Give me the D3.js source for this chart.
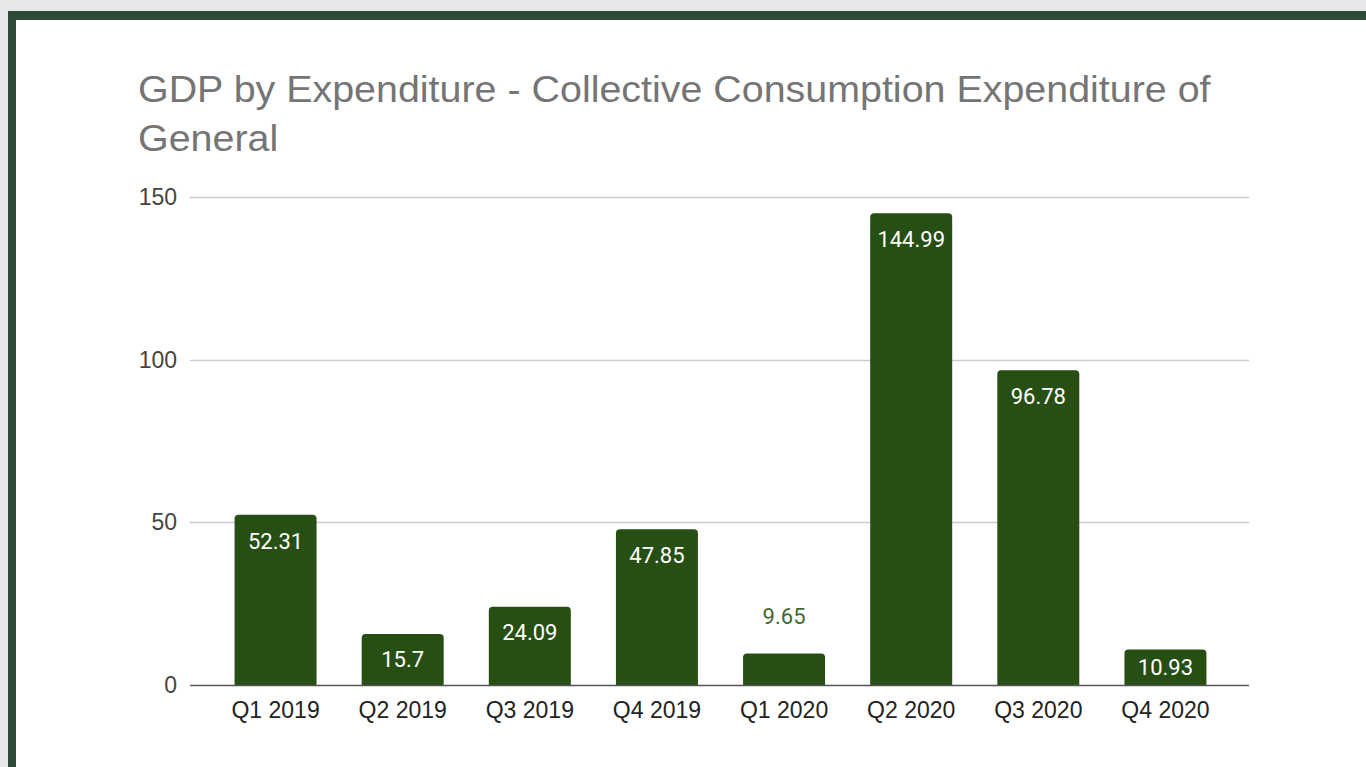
<!DOCTYPE html>
<html>
<head>
<meta charset="utf-8">
<script src="https://cdn.jsdelivr.net/npm/d3@7"></script>
<style>
  html, body { margin: 0; padding: 0; background: #e6e8e6; overflow: hidden; }
  svg { display: block; }
</style>
</head>
<body>
<svg id="chart" width="1366" height="767"></svg>
<script>
const categories = ["Q1 2019", "Q2 2019", "Q3 2019", "Q4 2019", "Q1 2020", "Q2 2020", "Q3 2020", "Q4 2020"];
const values = [52.31, 15.7, 24.09, 47.85, 9.65, 144.99, 96.78, 10.93];
const yTicks = [0, 50, 100, 150];
const titleLines = ["GDP by Expenditure - Collective Consumption Expenditure of", "General"];

const svg = d3.select("#chart");

// frame
svg.append("rect").attr("x", 8).attr("y", 11).attr("width", 1400).attr("height", 800).attr("fill", "#2e4b3a");
svg.append("rect").attr("x", 16).attr("y", 20).attr("width", 1400).attr("height", 800).attr("fill", "#ffffff");

// title (slightly stretched to match the wide glyphs of the original)
svg.append("text")
    .attr("transform", "translate(138,102) scale(1.095,1)")
    .attr("font-family", "Arial, 'Liberation Sans', sans-serif")
    .attr("font-size", 36)
    .attr("fill", "#757575")
    .selectAll("tspan")
    .data(titleLines)
    .join("tspan")
    .attr("x", 0)
    .attr("dy", (d, i) => i ? 49 : 0)
    .text(d => d);

const gridLeft = 190, gridRight = 1249;
const y = d3.scaleLinear().domain([0, 150]).range([685, 197]);
const x = d3.scaleBand().domain(categories).range([212, 1229]).paddingInner(0.355).paddingOuter(0.1775);

// grid
svg.append("g").selectAll("line")
    .data(yTicks.filter(d => d > 0))
    .join("line")
    .attr("x1", gridLeft).attr("x2", gridRight)
    .attr("y1", d => Math.round(y(d)) + 0.5).attr("y2", d => Math.round(y(d)) + 0.5)
    .attr("stroke", "#cccccc").attr("stroke-width", 1.5);

// y labels
svg.append("g").selectAll("text")
    .data(yTicks)
    .join("text")
    .attr("x", 177).attr("y", d => y(d))
    .attr("dy", "0.35em")
    .attr("text-anchor", "end")
    .attr("font-family", "Arial, 'Liberation Sans', sans-serif")
    .attr("font-size", 23)
    .attr("fill", "#444444")
    .text(d => d);

// bars with rounded top
const r = 4;
function barPath(d, i) {
    const x0 = x(categories[i]), w = x.bandwidth();
    const y0 = y(d), b = y(0);
    return `M${x0},${b} V${y0 + r} Q${x0},${y0} ${x0 + r},${y0} H${x0 + w - r} Q${x0 + w},${y0} ${x0 + w},${y0 + r} V${b} Z`;
}
svg.append("g").selectAll("path")
    .data(values)
    .join("path")
    .attr("d", barPath)
    .attr("fill", "#274e13");

// baseline
svg.append("line")
    .attr("x1", gridLeft).attr("x2", gridRight)
    .attr("y1", y(0) + 0.5).attr("y2", y(0) + 0.5)
    .attr("stroke", "#555555").attr("stroke-width", 1.5);

// data labels
svg.append("g").selectAll("text")
    .data(values)
    .join("text")
    .attr("x", (d, i) => x(categories[i]) + x.bandwidth() / 2)
    .attr("y", d => {
        const h = y(0) - y(d);
        return h < 34 ? y(d) - 37 : y(d) + Math.min(26, h / 2);
    })
    .attr("dy", "0.35em")
    .attr("text-anchor", "middle")
    .attr("font-family", "Roboto, sans-serif")
    .attr("font-size", 22)
    .attr("fill", d => (y(0) - y(d)) < 34 ? "#44692f" : "#ffffff")
    .text(d => d);

// x labels
svg.append("g").selectAll("text")
    .data(categories)
    .join("text")
    .attr("x", d => x(d) + x.bandwidth() / 2)
    .attr("y", 718)
    .attr("text-anchor", "middle")
    .attr("font-family", "Arial, 'Liberation Sans', sans-serif")
    .attr("font-size", 23)
    .attr("fill", "#222222")
    .text(d => d);
</script>
</body>
</html>
